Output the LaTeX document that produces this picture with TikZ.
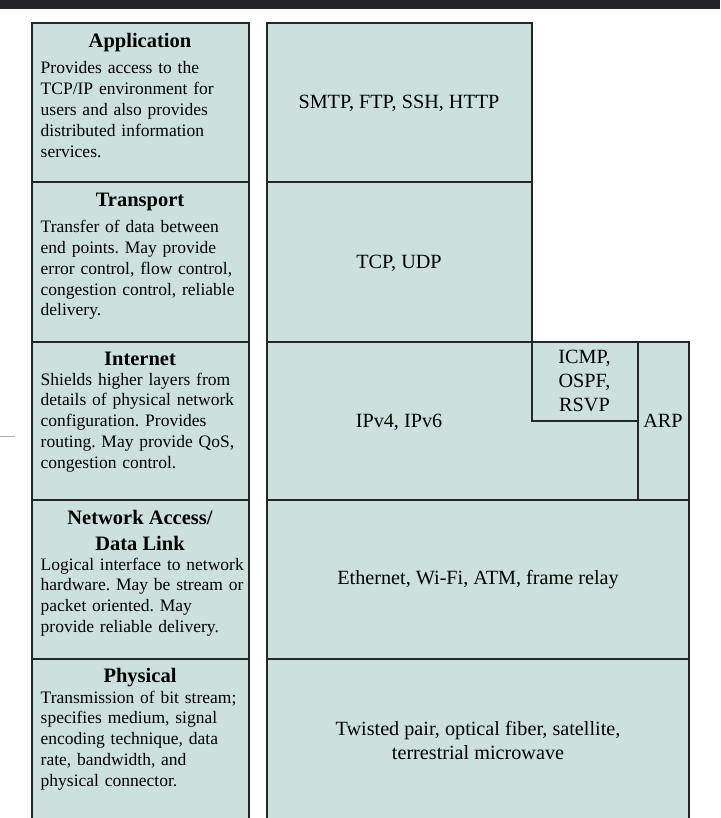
\documentclass[tikz,border=0pt]{standalone}
\usepackage{fontspec}
\setmainfont{Liberation Serif}
\usetikzlibrary{positioning}
\frenchspacing

\definecolor{layerfill}{RGB}{204,224,220}
\definecolor{topbar}{RGB}{32,35,36}
\definecolor{edgecol}{RGB}{38,38,38}

\tikzset{
  layerbox/.style={draw=edgecol, line width=2pt, fill=layerfill},
  layertitle/.style={font=\fontsize{20.5}{26}\selectfont\bfseries, anchor=base, inner sep=0pt},
  layerdesc/.style={font=\fontsize{17.5}{20.8}\selectfont, text width=208pt, align=left, anchor=base west, inner sep=0pt},
  protolabel/.style={font=\fontsize{20.2}{24}\selectfont, align=center, inner sep=0pt},
}

\begin{document}
\begin{tikzpicture}[x=1pt,y=-1pt]
  \useasboundingbox (0,0) rectangle (720,818);
  \clip (0,0) rectangle (720,818);
  \fill[topbar] (0,0) rectangle (720,9.5);
  \draw[gray!60, line width=0.8pt] (0,436.7) -- (15,436.7);

  % left column: layer names
  \draw[layerbox] (31.5,23.5) rectangle (248.5,182.5);
  \draw[layerbox] (31.5,182.5) rectangle (248.5,341.5);
  \draw[layerbox] (31.5,341.5) rectangle (248.5,500);
  \draw[layerbox] (31.5,500) rectangle (248.5,659);
  \draw[layerbox] (31.5,659) rectangle (248.5,830);

  % right column: protocols
  \draw[layerbox] (266.5,23.5) rectangle (531.5,182.5);
  \draw[layerbox] (266.5,182.5) rectangle (531.5,341.5);
  \draw[layerbox] (266.5,341.5) rectangle (689,500);
  \draw[edgecol, line width=2pt] (531.5,341.5) |- (637.5,420.5);
  \draw[edgecol, line width=2pt] (637.5,341.5) -- (637.5,500);
  \draw[layerbox] (266.5,500) rectangle (689,659);
  \draw[layerbox] (266.5,659) rectangle (689,830);

  \node[layertitle] (appT) at (140,48) {Application};
  \node[layerdesc] (appD) at (40.5,74) {Provides access to the\\ TCP/IP environment for\\ users and also provides\\ distributed information\\ services.};

  \node[layertitle] (trnT) at (140,206.7) {Transport};
  \node[layerdesc] (trnD) at (40.5,232.7) {Transfer of data between\\ end points. May provide\\ error control, flow control,\\ congestion control, reliable\\ delivery.};

  \node[layertitle] (intT) at (140,365) {Internet};
  \node[layerdesc] (intD) at (40.5,385) {Shields higher layers from\\ details of physical network\\ configuration. Provides\\ routing. May provide QoS,\\ congestion control.};

  \node[layertitle] (netT) at (140,524) {Network Access/};
  \node[layertitle] (netT2) at (140,550) {Data Link};
  \node[layerdesc] (netD) at (40.5,570) {Logical interface to network\\ hardware. May be stream or\\ packet oriented. May\\ provide reliable delivery.};

  \node[layertitle] (phyT) at (140,682) {Physical};
  \node[layerdesc] (phyD) at (40.5,703) {Transmission of bit stream;\\ specifies medium, signal\\ encoding technique, data\\ rate, bandwidth, and\\ physical connector.};

  \node[protolabel] (appP) at (399,103) {SMTP, FTP, SSH, HTTP};
  \node[protolabel] (trnP) at (399,263) {TCP, UDP};
  \node[protolabel] (ipP) at (399,422) {IPv4, IPv6};
  \node[protolabel] (icmpP) at (584.5,381) {ICMP,\\ OSPF,\\ RSVP};
  \node[protolabel] (arpP) at (663,421) {ARP};
  \node[protolabel] (netP) at (478,580) {Ethernet, Wi-Fi, ATM, frame relay};
  \node[protolabel] (phyP) at (478,740) {Twisted pair, optical fiber, satellite,\\ terrestrial microwave};
\end{tikzpicture}
\end{document}
